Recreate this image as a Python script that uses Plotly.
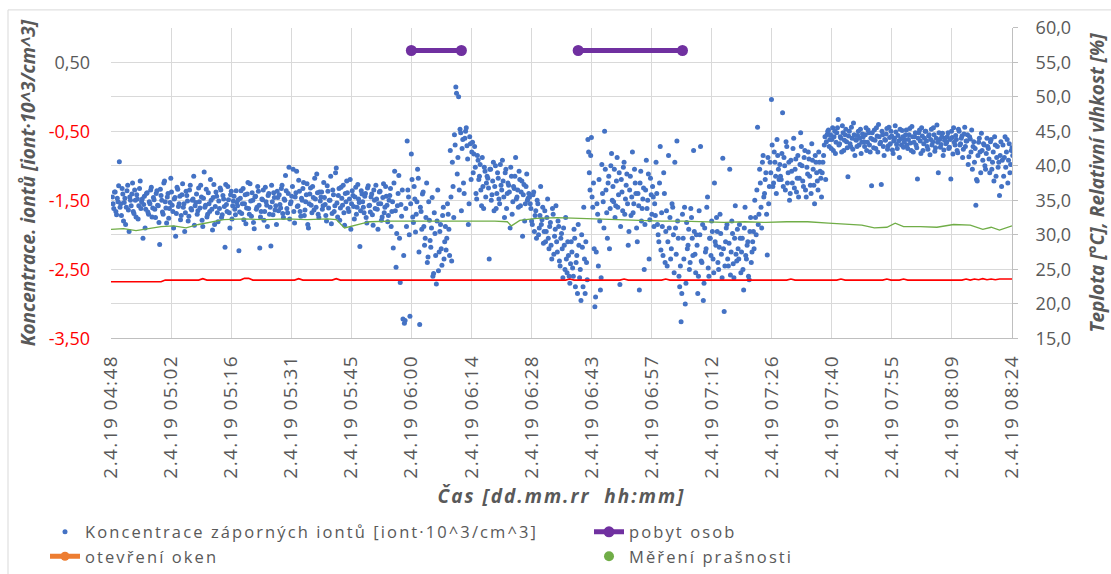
import pandas as pd
import plotly.graph_objects as go

DATE = "2019-04-02"

# ---- negative ion concentration (left axis) ----
# set A: one value per 20 s from 04:48:20 ; set B: one value per 20 s from 04:48:30
ion_a_start = "04:48:20"
ion_b_start = "04:48:30"
ion_step = "20s"

ion_a00 = [-1.45,-1.62,-1.38,-1.71,-1.52,-0.94,-1.55,-1.33,-1.80,-1.47,-1.60,-1.28,-1.95,-1.50,-1.41,-1.66,-1.35,-1.74,-1.48,-1.58,-1.22,-1.52,-2.05,-1.44,-1.63,-1.39,-1.70,-1.55,-1.31,-1.61]
ion_a01 = [-1.49,-1.75,-1.36,-1.58,-2.14,-1.43,-1.67,-1.25,-1.52,-1.83,-1.40,-1.62,-1.18,-1.57,-1.90,-1.46,-1.69,-1.34,-1.55,-1.78,-1.42,-1.60,-1.95,-1.37,-1.51,-1.73,-1.28,-1.64,-1.48,-1.86]
ion_a02 = [-1.53,-1.70,-1.32,-1.61,-1.45,-1.88,-1.09,-1.57,-1.74,-1.39,-1.66,-1.50,-1.93,-1.27,-1.59,-1.44,-1.81,-1.62,-1.35,-1.71,-1.48,-2.18,-1.56,-1.30,-1.68,-1.42,-1.77,-1.51,-1.63,-1.36]
ion_a03 = [-1.58,-2.23,-1.47,-1.69,-1.33,-1.55,-1.84,-1.41,-1.62,-1.26,-1.73,-1.50,-1.91,-1.44,-1.60,-1.37,-2.19,-1.66,-1.49,-1.79,-1.31,-1.57,-1.43,-1.70,-2.16,-1.52,-1.39,-1.64,-1.85,-1.46]
ion_a04 = [-1.42,-1.61,-1.28,-1.75,-1.50,-1.36,-1.68,-1.02,-1.55,-1.44,-1.05,-1.83,-1.39,-1.59,-1.21,-1.66,-1.47,-1.33,-1.72,-1.52,-1.26,-1.90,-1.41,-1.57,-1.30,-1.64,-1.48,-1.12,-1.70,-1.38]
ion_a05 = [-1.45,-1.63,-1.24,-1.56,-1.80,-1.37,-1.50,-1.15,-1.69,-1.42,-1.58,-1.03,-1.74,-1.33,-1.61,-1.47,-1.28,-1.86,-1.52,-1.39,-1.66,-1.20,-1.55,-1.43,-1.77,-1.31,-1.60,-1.48,-2.17,-1.36]
ion_a06 = [-1.52,-1.68,-1.40,-1.83,-1.29,-1.57,-1.45,-1.71,-1.35,-1.62,-1.48,-1.92,-1.38,-1.55,-1.74,-1.26,-1.60,-1.44,-1.81,-1.50,-1.33,-1.66,-2.19,-1.08,-2.47,-1.58,-1.14,-2.69,-1.73,-3.22]
ion_a07 = [-3.28,-1.62,-0.64,-1.45,-3.18,-0.83,-1.74,-1.30,-1.96,-1.52,-1.18,-3.30,-1.66,-1.41,-1.88,-2.05,-1.25,-2.32,-1.79,-2.18,-1.46,-2.56,-1.98,-2.71,-1.35,-2.25,-1.85,-2.44,-1.60,-2.10]
ion_a08 = [-2.22,-1.55,-1.92,-0.78,-2.38,-1.30,-0.55,0.14,-1.12,0.00,-0.47,-1.65,-0.62,-1.40,-0.50,-0.71,-1.85,-0.58,-1.20,-0.66,-0.83,-1.02,-1.48,-0.92,-1.15,-1.35,-0.88,-1.62,-1.08,-1.25]
ion_a09 = [-1.18,-2.35,-1.05,-1.42,-0.95,-1.30,-1.62,-1.10,-1.48,-0.98,-1.35,-1.22,-1.75,-1.05,-1.40,-1.28,-1.90,-1.15,-1.52,-1.33,-0.88,-1.45,-1.60,-1.20,-1.38,-2.02,-1.27,-1.55,-1.12,-1.47]
ion_a10 = [-1.45,-1.62,-1.85,-1.38,-1.72,-2.05,-1.55,-1.90,-1.30,-1.78,-2.12,-1.65,-1.95,-1.48,-2.20,-1.82,-2.35,-1.70,-2.02,-1.58,-2.25,-1.88,-2.45,-1.98,-2.62,-2.15,-1.75,-2.55,-2.30,-2.70]
ion_a11 = [-2.10,-2.48,-1.92,-2.75,-2.30,-1.85,-2.62,-2.95,-2.18,-1.60,-2.85,-2.40,-0.62,-1.10,-0.85,-1.45,-1.25,-3.04,-2.25,-1.70,-1.20,-2.80,-0.98,-1.52,-0.50,-1.35,-2.05,-1.15,-1.62,-0.82]
ion_a12 = [-1.30,-1.05,-1.58,-0.88,-1.42,-2.72,-1.20,-1.65,-0.95,-1.48,-1.12,-2.15,-1.35,-1.72,-0.80,-1.55,-1.25,-1.90,-1.40,-2.80,-1.08,-1.62,-1.32,-1.85,-0.92,-1.50,-2.35,-1.18,-1.70,-1.45]
ion_a13 = [-1.55,-0.95,-1.85,-2.10,-0.72,-1.68,-2.30,-1.40,-1.95,-2.45,-0.85,-1.75,-2.20,-1.60,-2.55,-1.90,-0.64,-2.05,-2.75,-3.26,-1.70,-2.35,-3.00,-1.82,-2.15,-2.50,-1.62,-2.05,-0.78,-2.28]
ion_a14 = [-2.00,-2.85,-1.65,-0.72,-2.40,-2.95,-1.90,-2.20,-1.45,-2.60,-2.05,-1.80,-2.35,-1.25,-2.15,-1.95,-2.50,-1.70,-2.28,-0.89,-3.11,-2.10,-1.85,-2.45,-1.05,-2.25,-1.98,-2.62,-1.58,-2.38]
ion_a15 = [-2.20,-1.85,-2.55,-2.05,-2.80,-1.60,-2.35,-2.10,-2.65,-1.75,-2.25,-1.95,-1.50,-2.00,-0.44,-1.70,-1.25,-1.90,-0.85,-1.40,-1.10,-2.29,-1.55,-0.95,-0.04,-1.30,-0.80,-1.15,-0.62,-1.05]
ion_a16 = [-0.98,-1.20,-0.23,-0.88,-1.35,-0.72,-1.10,-1.50,-0.92,-1.25,-0.60,-1.05,-1.38,-0.85,-1.18,-0.52,-1.00,-1.30,-0.78,-1.45,-1.12,-0.90,-1.28,-0.68,-1.05,-1.55,-0.95,-1.22,-0.80,-1.08]
ion_a17 = [-1.45,-0.95,-0.70,-1.20,-0.55,-0.48,-0.62,-0.75,-0.45,-0.58,-0.82,-0.52,-0.33,-0.68,-0.60,-0.42,-0.78,-0.55,-0.65,-1.16,-0.50,-0.72,-0.60,-0.38,-0.85,-0.63,-0.56,-0.70,-0.47,-0.66]
ion_a18 = [-0.58,-0.72,-0.45,-0.66,-0.52,-0.80,-1.29,-0.62,-0.48,-0.75,-0.57,-0.40,-0.68,-1.27,-0.55,-0.85,-0.63,-0.46,-0.71,-0.59,-0.50,-0.77,-0.64,-0.42,-0.69,-0.56,-0.88,-0.61,-0.49,-0.73]
ion_a19 = [-0.62,-0.48,-0.75,-0.55,-0.67,-0.43,-0.80,-0.58,-0.70,-1.19,-0.52,-0.64,-0.45,-0.78,-0.60,-0.50,-0.72,-0.57,-0.84,-0.47,-0.65,-0.55,-0.74,-0.41,-1.10,-0.62,-0.69,-0.53,-0.77,-0.60]
ion_a20 = [-0.66,-0.52,-0.73,-1.19,-0.59,-0.45,-0.70,-0.62,-0.81,-0.50,-0.68,-0.57,-0.76,-0.44,-0.64,-0.55,-0.87,-0.61,-0.48,-0.72,-0.95,-1.57,-1.22,-0.66,-0.80,-0.53,-0.92,-0.70,-1.05,-0.60]
ion_a21 = [-0.75,-1.10,-0.62,-0.95,-1.22,-0.70,-0.88,-1.02,-1.43,-0.65,-0.92,-1.15,-0.58,-0.80,-1.25,-0.68,-0.98,-0.74]

ion_b00 = [-1.55,-1.38,-1.66,-1.47,-1.29,-1.60,-1.72,-1.41,-1.53,-1.85,-1.36,-1.64,-1.45,-1.58,-1.25,-1.69,-1.50,-1.42,-1.77,-1.33,-1.62,-1.48,-1.56,-1.90,-1.40,-1.67,-1.52,-1.35,-1.74,-1.46]
ion_b01 = [-1.63,-1.40,-1.57,-1.82,-1.34,-1.50,-1.70,-1.22,-1.61,-1.45,-1.76,-1.53,-1.38,-1.66,-1.48,-2.02,-1.31,-1.59,-1.44,-1.72,-1.26,-1.55,-1.68,-1.43,-1.80,-1.35,-1.62,-1.50,-1.15,-1.58]
ion_b02 = [-1.41,-1.65,-1.52,-1.28,-1.79,-1.47,-1.60,-1.34,-1.70,-1.55,-1.20,-1.63,-1.46,-1.85,-1.38,-1.68,-1.51,-1.32,-1.75,-1.43,-1.59,-1.27,-1.66,-1.49,-1.90,-1.37,-1.58,-1.44,-1.71,-1.53]
ion_b03 = [-1.49,-1.67,-1.36,-1.55,-1.78,-1.42,-1.61,-1.24,-1.70,-1.51,-1.39,-1.82,-1.45,-1.63,-1.30,-1.57,-1.74,-1.48,-1.35,-1.66,-1.52,-1.88,-1.40,-1.60,-1.28,-1.71,-1.46,-1.58,-1.37,-1.65]
ion_b04 = [-1.56,-1.33,-1.69,-1.48,-1.14,-1.62,-1.40,-1.77,-1.52,-1.30,-1.66,-1.45,-1.08,-1.58,-1.37,-1.73,-1.50,-1.24,-1.64,-1.42,-1.85,-1.55,-1.32,-1.68,-1.46,-1.18,-1.60,-1.39,-1.75,-1.51]
ion_b05 = [-1.38,-1.58,-1.46,-1.72,-1.29,-1.61,-1.50,-1.84,-1.35,-1.66,-1.10,-1.54,-1.43,-1.79,-1.31,-1.57,-1.68,-1.40,-1.22,-1.62,-1.48,-1.92,-1.36,-1.59,-1.45,-1.70,-1.27,-1.53,-1.65,-1.41]
ion_b06 = [-1.60,-1.44,-1.75,-1.32,-1.58,-1.67,-1.41,-1.86,-1.50,-1.28,-1.63,-1.55,-1.37,-1.79,-1.46,-1.68,-1.30,-1.57,-1.72,-1.43,-1.88,-1.52,-1.25,-1.65,-1.98,-1.40,-2.05,-1.56,-1.35,-2.30]
ion_b07 = [-3.24,-1.88,-1.35,-2.00,-1.55,-1.20,-1.82,-1.48,-1.70,-1.05,-2.25,-1.60,-1.92,-1.38,-2.15,-1.75,-2.40,-1.52,-2.08,-1.90,-2.60,-1.68,-2.30,-1.80,-2.52,-1.95,-2.20,-1.72,-2.35,-1.88]
ion_b08 = [-2.05,-1.70,-2.30,-1.45,-0.95,-1.75,-0.70,0.05,-0.88,-1.35,-0.52,-0.75,-1.25,-0.60,-0.45,-0.90,-1.55,-0.68,-0.80,-1.10,-0.72,-1.40,-0.85,-1.20,-0.98,-1.58,-1.30,-1.02,-1.45,-1.15]
ion_b09 = [-1.32,-1.05,-1.50,-1.22,-1.65,-1.00,-1.40,-1.18,-1.55,-1.28,-0.92,-1.45,-1.10,-1.62,-1.25,-1.38,-1.02,-1.70,-1.30,-1.15,-1.48,-1.35,-1.08,-1.58,-1.22,-1.42,-1.80,-1.30,-1.50,-1.40]
ion_b10 = [-1.55,-1.80,-1.42,-1.95,-1.65,-1.50,-2.00,-1.72,-1.85,-1.60,-1.95,-2.10,-1.75,-2.05,-1.88,-2.15,-1.62,-2.28,-1.92,-2.10,-1.80,-2.38,-2.05,-2.20,-1.90,-2.50,-2.35,-2.10,-2.60,-2.42]
ion_b11 = [-2.25,-2.60,-2.05,-2.40,-2.85,-2.15,-2.50,-2.00,-2.75,-2.35,-2.10,-2.65,-0.80,-1.35,-0.59,-1.60,-2.20,-2.90,-1.55,-2.45,-1.80,-2.62,-1.40,-1.90,-1.05,-1.68,-1.25,-2.20,-1.00,-1.50]
ion_b12 = [-1.52,-1.75,-1.22,-1.60,-1.10,-1.88,-1.38,-1.02,-1.70,-1.28,-1.55,-1.95,-1.15,-1.45,-1.68,-1.05,-1.40,-2.10,-1.58,-1.25,-1.80,-1.48,-2.50,-1.35,-1.62,-1.12,-1.78,-1.42,-1.30,-1.88]
ion_b13 = [-1.72,-1.40,-2.00,-1.25,-2.22,-1.88,-1.10,-2.40,-1.65,-2.10,-1.90,-2.35,-1.55,-2.00,-0.95,-2.28,-1.80,-2.60,-2.45,-2.85,-2.05,-1.60,-2.70,-2.20,-1.92,-2.40,-1.75,-2.30,-1.95,-2.55]
ion_b14 = [-2.15,-2.60,-2.00,-2.38,-1.85,-2.70,-2.25,-1.60,-2.48,-2.05,-2.30,-1.95,-2.55,-2.10,-1.75,-2.40,-2.18,-1.98,-2.62,-2.20,-2.45,-1.90,-2.35,-2.12,-2.58,-1.80,-2.42,-2.05,-2.28,-1.92]
ion_b15 = [-2.35,-2.05,-2.25,-2.50,-1.90,-2.30,-2.15,-2.60,-1.95,-2.40,-2.10,-2.20,-1.75,-1.35,-1.85,-1.05,-1.60,-0.95,-1.45,-1.20,-1.70,-0.88,-1.30,-1.10,-0.70,-1.25,-0.95,-1.40,-0.85,-1.20]
ion_b16 = [-1.15,-0.82,-1.30,-1.00,-0.65,-1.25,-0.95,-1.40,-1.08,-0.75,-1.32,-0.90,-1.18,-1.45,-0.98,-0.72,-1.22,-0.88,-1.35,-1.02,-0.80,-1.15,-1.40,-0.92,-1.28,-0.85,-1.10,-1.35,-0.95,-1.18]
ion_b17 = [-1.10,-0.85,-0.58,-0.65,-0.50,-0.72,-0.55,-0.62,-0.78,-0.50,-0.66,-0.45,-0.70,-0.58,-0.80,-0.52,-0.63,-0.47,-0.74,-0.57,-0.68,-0.44,-0.76,-0.55,-0.62,-0.72,-0.50,-0.60,-0.82,-0.54]
ion_b18 = [-0.65,-0.55,-0.78,-0.48,-0.70,-0.60,-0.52,-0.74,-0.63,-0.45,-0.80,-0.58,-0.66,-0.50,-0.72,-0.62,-0.54,-0.76,-0.44,-0.68,-0.57,-0.82,-0.60,-0.51,-0.75,-0.64,-0.47,-0.70,-0.58,-0.66]
ion_b19 = [-0.55,-0.70,-0.62,-0.46,-0.78,-0.58,-0.66,-0.52,-0.74,-0.60,-0.48,-0.82,-0.57,-0.68,-0.50,-0.64,-0.76,-0.55,-0.62,-0.70,-0.45,-0.79,-0.60,-0.66,-0.52,-0.73,-0.58,-0.85,-0.63,-0.68]
ion_b20 = [-0.58,-0.75,-0.62,-0.50,-0.83,-0.66,-0.56,-0.78,-0.47,-0.70,-0.60,-0.88,-0.54,-0.72,-0.64,-0.98,-0.58,-0.80,-1.05,-0.65,-0.75,-1.20,-0.85,-0.60,-1.10,-0.78,-0.68,-1.00,-0.82,-0.72]
ion_b21 = [-0.90,-0.65,-1.05,-0.80,-0.58,-1.15,-0.72,-0.95,-0.85,-1.30,-0.70,-0.88,-1.02,-0.62,-0.92,-1.10,-0.78,-0.85]

ion_a_rows = [ion_a00, ion_a01, ion_a02, ion_a03, ion_a04, ion_a05, ion_a06, ion_a07,
              ion_a08, ion_a09, ion_a10, ion_a11, ion_a12, ion_a13, ion_a14, ion_a15,
              ion_a16, ion_a17, ion_a18, ion_a19, ion_a20, ion_a21]
ion_b_rows = [ion_b00, ion_b01, ion_b02, ion_b03, ion_b04, ion_b05, ion_b06, ion_b07,
              ion_b08, ion_b09, ion_b10, ion_b11, ion_b12, ion_b13, ion_b14, ion_b15,
              ion_b16, ion_b17, ion_b18, ion_b19, ion_b20, ion_b21]

# ---- relative humidity (right axis) ----
rh_times = ["04:48","04:51","04:54","04:57","05:00","05:03","05:06","05:09","05:12","05:15",
            "05:20","05:25","05:30","05:35","05:40","05:42","05:44","05:47","05:50","05:55",
            "06:00","06:05","06:10","06:15","06:20","06:23","06:24","06:26","06:30","06:35",
            "06:40","06:45","06:50","06:55","07:00","07:05","07:10","07:15","07:20","07:25",
            "07:30","07:35","07:40","07:44","07:48","07:51","07:54","07:56","07:58","08:02",
            "08:06","08:10","08:14","08:17","08:19","08:21","08:24"]
rh_vals = [30.8,30.9,30.6,30.9,31.2,31.3,31.0,31.5,31.8,32.2,
           32.3,32.2,32.3,32.2,32.3,32.2,31.0,31.4,31.9,32.0,
           32.0,32.1,32.0,32.1,32.0,31.9,31.3,32.1,32.4,32.5,
           32.4,32.2,32.1,32.0,32.0,32.0,31.9,31.8,31.9,31.8,
           31.9,31.9,31.7,31.5,31.4,31.0,31.1,31.7,31.2,31.2,
           31.1,31.5,31.4,30.8,31.1,30.7,31.3]

# ---- temperature (right axis) ----
temp_times = ["04:48","05:00","05:01","05:09","05:10","05:11","05:19","05:20","05:21","05:22",
              "05:32","05:33","05:34","05:41","05:42","05:43","06:37","06:38","06:39","06:50",
              "06:51","06:52","07:00","07:01","07:02","07:30","07:31","07:32","07:42","07:43",
              "07:44","07:53","07:54","07:55","07:57","07:58","07:59","08:12","08:13","08:14",
              "08:15","08:16","08:17","08:18","08:19","08:20","08:21","08:22","08:24"]
temp_vals = [23.2,23.2,23.45,23.45,23.65,23.45,23.45,23.7,23.7,23.45,
             23.45,23.65,23.45,23.45,23.65,23.45,23.45,23.6,23.45,23.45,
             23.6,23.45,23.45,23.6,23.45,23.45,23.6,23.45,23.45,23.6,
             23.45,23.45,23.6,23.45,23.45,23.6,23.45,23.45,23.6,23.45,
             23.6,23.5,23.65,23.5,23.6,23.5,23.6,23.6,23.6]

# ---- occupancy periods (pobyt osob) ----
stay_times = ["06:00", "06:12", None, "06:40", "07:05"]
stay_vals = [56.7, 56.7, None, 56.7, 56.7]

# ---- axes ----
x_tick_times = ["04:48:00","05:02:24","05:16:48","05:31:12","05:45:36","06:00:00","06:14:24","06:28:48",
                "06:43:12","06:57:36","07:12:00","07:26:24","07:40:48","07:55:12","08:09:36","08:24:00"]
x_tick_labels = ["2.4.19 04:48","2.4.19 05:02","2.4.19 05:16","2.4.19 05:31","2.4.19 05:45","2.4.19 06:00",
                 "2.4.19 06:14","2.4.19 06:28","2.4.19 06:43","2.4.19 06:57","2.4.19 07:12","2.4.19 07:26",
                 "2.4.19 07:40","2.4.19 07:55","2.4.19 08:09","2.4.19 08:24"]
left_pos_vals = [0.5]
left_pos_labels = ["0,50"]
left_neg_vals = [-0.5, -1.5, -2.5, -3.5]
left_neg_labels = ["-0,50", "-1,50", "-2,50", "-3,50"]
right_vals = [15, 20, 25, 30, 35, 40, 45, 50, 55, 60]
right_labels = ["15,0","20,0","25,0","30,0","35,0","40,0","45,0","50,0","55,0","60,0"]

# ------------------------------------------------------------------
ion_a = [v for row in ion_a_rows for v in row]
ion_b = [v for row in ion_b_rows for v in row]
ion_x = (list(pd.date_range(f"{DATE} {ion_a_start}", periods=len(ion_a), freq=ion_step)) +
         list(pd.date_range(f"{DATE} {ion_b_start}", periods=len(ion_b), freq=ion_step)))
ion_y = ion_a + ion_b
full = lambda ts: [None if t is None else f"{DATE} {t}" for t in ts]
spaced = lambda s, sp: f"<span style='letter-spacing:{sp}px'>{s}</span>"

W, H = 1111, 574
PL, PR, PT, PB = 111, 1012, 28, 342      # plot-area edges in pixels
px = lambda v: v / W
py = lambda v: 1 - v / H

FONT = "'Open Sans', sans-serif"
GRAY = "#595959"
GRID = "#d9d9d9"
LEG_SP = 2.1

fig = go.Figure()
fig.add_trace(go.Scatter(
    x=ion_x, y=ion_y, mode="markers",
    name=spaced("Koncentrace záporných iontů [iont·10^3/cm^3]", LEG_SP),
    marker=dict(color="#4472C4", size=5), yaxis="y", legend="legend"))
fig.add_trace(go.Scatter(  # carrier for the red negative-value tick labels on the left
    x=[None], y=[None], yaxis="y3", showlegend=False, hoverinfo="skip"))
fig.add_trace(go.Scatter(
    x=full(rh_times), y=rh_vals, mode="lines", line=dict(color="#70AD47", width=1.3),
    yaxis="y2", showlegend=False, name="Relativní vlhkost"))
fig.add_trace(go.Scatter(
    x=full(temp_times), y=temp_vals, mode="lines", line=dict(color="#FF0000", width=1.6),
    yaxis="y2", showlegend=False, name="Teplota"))
fig.add_trace(go.Scatter(
    x=full(stay_times), y=stay_vals, mode="lines+markers", name=spaced("pobyt osob", LEG_SP),
    line=dict(color="#7030A0", width=5), marker=dict(color="#7030A0", size=11),
    connectgaps=False, yaxis="y2", legend="legend2"))
fig.add_trace(go.Scatter(
    x=[None], y=[None], mode="lines+markers", name=spaced("otevření oken", LEG_SP),
    line=dict(color="#ED7D31", width=5), marker=dict(color="#ED7D31", size=9),
    yaxis="y2", legend="legend"))
fig.add_trace(go.Scatter(
    x=[None], y=[None], mode="markers", name=spaced("Měření prašnosti", LEG_SP),
    marker=dict(color="#70AD47", size=10), yaxis="y2", legend="legend2"))

title_font = dict(family=FONT, size=19, color=GRAY, weight="bold", style="italic")
tick_font = dict(family=FONT, size=18, color=GRAY)
legend_font = dict(family=FONT, size=16.5, color=GRAY)
ydom = [py(PB), py(PT)]

fig.update_layout(
    width=W, height=H, autosize=False,
    margin=dict(l=0, r=0, t=0, b=0),
    paper_bgcolor="white", plot_bgcolor="white",
    font=dict(family=FONT, color=GRAY),
    xaxis=dict(
        domain=[px(PL), px(PR)],
        type="date", range=[f"{DATE} 04:48:00", f"{DATE} 08:24:00"],
        tickmode="array", tickvals=full(x_tick_times),
        ticktext=[spaced(t, 1.4) for t in x_tick_labels],
        tickangle=-90, tickfont=dict(family=FONT, size=19, color=GRAY),
        showgrid=True, gridcolor=GRID, gridwidth=1,
        showline=True, linecolor="#bfbfbf", ticks="", ticklabelstandoff=8,
        title=dict(text=spaced("Čas [dd.mm.rr\u00a0 hh:mm]", 2.0), font=title_font, standoff=12),
        automargin=False),
    yaxis=dict(
        domain=ydom, range=[-3.5, 1.0], tickmode="array", tickvals=left_pos_vals,
        ticktext=left_pos_labels, tickfont=tick_font, showgrid=False, zeroline=False,
        ticklabelstandoff=20, automargin=False),
    yaxis3=dict(
        range=[-3.5, 1.0], overlaying="y", side="left", tickmode="array",
        tickvals=left_neg_vals, ticktext=left_neg_labels,
        tickfont=dict(family=FONT, size=18, color="#FF0000"), showgrid=False, zeroline=False,
        ticklabelstandoff=20, automargin=False,
        title=dict(text="Koncentrace. iontů [iont·10^3/cm^3]", font=title_font, standoff=8)),
    yaxis2=dict(
        range=[15, 60], overlaying="y", side="right", tickmode="array",
        tickvals=right_vals, ticktext=right_labels, tickfont=tick_font,
        showgrid=True, gridcolor=GRID, gridwidth=1, zeroline=False,
        showline=True, linecolor="#bfbfbf", ticks="outside", ticklen=5, tickcolor="#bfbfbf",
        ticklabelstandoff=14, automargin=False,
        title=dict(text="Teplota [°C], Relativní vlhkost [%]", font=title_font, standoff=20)),
    legend=dict(x=px(45), xanchor="left", y=py(520), yanchor="top",
                orientation="v", font=legend_font, bgcolor="rgba(0,0,0,0)", tracegroupgap=0),
    legend2=dict(x=px(589), xanchor="left", y=py(520), yanchor="top",
                 orientation="v", font=legend_font, bgcolor="rgba(0,0,0,0)", tracegroupgap=0),
    shapes=[dict(type="rect", xref="paper", yref="paper",
                 x0=px(8), x1=1.02, y0=-0.05, y1=py(10),
                 line=dict(color=GRID, width=1), fillcolor="rgba(0,0,0,0)", layer="below")],
)

fig.write_html("out.html")
